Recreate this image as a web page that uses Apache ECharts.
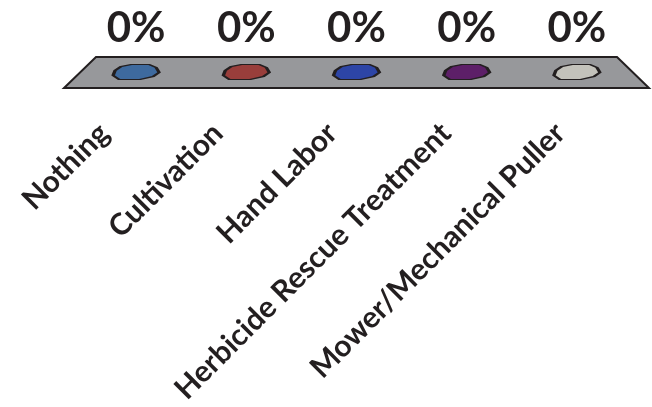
<!DOCTYPE html>
<html>
<head>
<meta charset="utf-8">
<script src="https://cdn.jsdelivr.net/npm/echarts@6/dist/echarts.min.js"></script>
<style>
  html, body { margin: 0; padding: 0; background: #ffffff; }
  #chart { width: 652px; height: 407px; }
</style>
</head>
<body>
<div id="chart"></div>
<script>
// Response options and the share of votes each received
const categories = ['Nothing', 'Cultivation', 'Hand Labor', 'Herbicide Rescue Treatment', 'Mower/Mechanical Puller'];
const shares = [0, 0, 0, 0, 0];
const barColors = ['#3E6A9E', '#993E3B', '#2D45A6', '#5D1F68', '#C3C2BB'];

// Flattened bar top seen in perspective (zero-height bar)
const capPath = 'path://M8,2 L18,0 L36,0 L43,3 L46,8 L40,12 L27,15 L6,15 L0,11 L2,6 Z';

const chart = echarts.init(document.getElementById('chart'));

chart.setOption({
  backgroundColor: '#ffffff',
  animation: false,
  grid: [
    { left: 81, right: 20, top: 20, height: 52 },
    { left: 47, right: 35, top: 20, height: 100 }
  ],
  xAxis: [
    {
      gridIndex: 0, type: 'category', data: categories,
      axisLine: { show: false }, axisTick: { show: false }, axisLabel: { show: false }
    },
    {
      gridIndex: 1, type: 'category', data: categories,
      axisLine: { show: false }, axisTick: { show: false },
      axisLabel: {
        interval: 0, rotate: 45, margin: 9,
        fontFamily: 'Lato', fontWeight: 'bold', fontSize: 30, color: '#231F20'
      }
    }
  ],
  yAxis: [
    { gridIndex: 0, type: 'value', min: 0, max: 1, show: false },
    { gridIndex: 1, type: 'value', min: 0, max: 1, show: false }
  ],
  graphic: [
    {
      type: 'polygon', z: 0,
      shape: { points: [[96, 57], [617, 57], [649, 88], [64, 88]] },
      style: { fill: '#97989B', stroke: '#231F20', lineWidth: 2 }
    }
  ],
  series: [
    {
      type: 'scatter', xAxisIndex: 0, yAxisIndex: 0, z: 5,
      symbol: capPath, symbolKeepAspect: false, symbolSize: [46, 15],
      data: shares.map((v, i) => ({
        value: v,
        itemStyle: { color: barColors[i] }
      })),
      itemStyle: { borderColor: '#231F20', borderWidth: 2, opacity: 1 },
      label: {
        show: true, position: 'inside', offset: [0, -44],
        formatter: p => Math.round(p.value * 100) + '%',
        fontFamily: 'Lato', fontWeight: 'bold', fontSize: 42, color: '#231F20'
      }
    }
  ]
});
</script>
</body>
</html>
